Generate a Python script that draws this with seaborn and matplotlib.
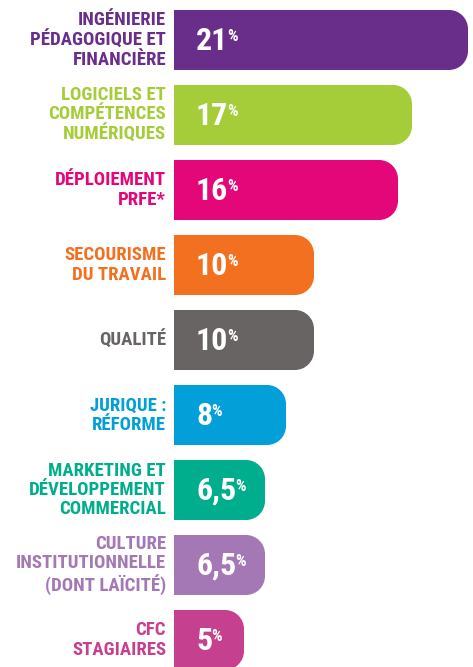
import pandas as pd
import matplotlib.pyplot as plt
import seaborn as sns
from matplotlib.path import Path
from matplotlib.patches import PathPatch


# Données
themes = [
    "INGÉNIERIE\nPÉDAGOGIQUE ET\nFINANCIÈRE",
    "LOGICIELS ET\nCOMPÉTENCES\nNUMÉRIQUES",
    "DÉPLOIEMENT\nPRFE*",
    "SECOURISME\nDU TRAVAIL",
    "QUALITÉ",
    "JURIQUE :\nRÉFORME",
    "MARKETING ET\nDÉVELOPPEMENT\nCOMMERCIAL",
    "CULTURE\nINSTITUTIONNELLE\n(DONT LAÏCITÉ)",
    "CFC\nSTAGIAIRES",
]
pourcentages = [21, 17, 16, 10, 10, 8, 6.5, 6.5, 5]
etiquettes = ["21", "17", "16", "10", "10", "8", "6,5", "6,5", "5"]
couleurs = ["#692D8A", "#A5CD39", "#E3077A", "#F37021", "#686463",
            "#029FD8", "#00AE8D", "#A478B4", "#C5418F"]

sns.set_style("white")
# police étroite et grasse, proche de l'original
plt.rcParams["font.family"] = ["Roboto Condensed", "DejaVu Sans"]

df = pd.DataFrame({"Thème": themes, "Pourcentage": pourcentages})

fig = plt.figure(figsize=(4.73, 6.67), dpi=100)
ax = fig.add_axes([174 / 473, 0, 1 - 174 / 473, 1])

sns.barplot(data=df, y="Thème", x="Pourcentage", hue="Thème",
            palette=couleurs, orient="h", width=0.8, legend=False,
            saturation=1, ax=ax)

ax.set_xlim(0, 299 / 14.0)
ax.set_ylim(8.36, -0.533)
ax.axis("off")

# Remplacer les barres par des barres aux coins droits arrondis
px_x = ax.transData.transform((1, 0))[0] - ax.transData.transform((0, 0))[0]
px_y = abs(ax.transData.transform((0, 1))[1] - ax.transData.transform((0, 0))[1])
rayon = 19
rx, ry = rayon / px_x, rayon / px_y
k = 0.5523

for patch in list(ax.patches):
    x0, y0 = patch.get_x(), patch.get_y()
    x1, y1 = x0 + patch.get_width(), y0 + patch.get_height()
    coul = patch.get_facecolor()
    patch.remove()
    verts = [
        (x0, y0), (x1 - rx, y0),
        (x1 - rx + k * rx, y0), (x1, y0 + ry - k * ry), (x1, y0 + ry),
        (x1, y1 - ry),
        (x1, y1 - ry + k * ry), (x1 - rx + k * rx, y1), (x1 - rx, y1),
        (x0, y1), (x0, y0),
    ]
    codes = [Path.MOVETO, Path.LINETO,
             Path.CURVE4, Path.CURVE4, Path.CURVE4,
             Path.LINETO,
             Path.CURVE4, Path.CURVE4, Path.CURVE4,
             Path.LINETO, Path.CLOSEPOLY]
    ax.add_patch(PathPatch(Path(verts, codes), facecolor=coul,
                           edgecolor="none", lw=0))

# Libellés à gauche et valeurs dans les barres
for i, (theme, etiq, coul) in enumerate(zip(themes, etiquettes, couleurs)):
    ax.annotate(theme, xy=(0, i), xytext=(-8, 0), textcoords="offset pixels",
                ha="right", va="center", ma="right", color=coul,
                fontsize=13.5, fontweight="bold", linespacing=1.1,
                annotation_clip=False)
    nombre = ax.annotate(etiq, xy=(0, i), xytext=(22, -1),
                         textcoords="offset pixels", ha="left", va="center",
                         color="white", fontsize=23, fontweight="bold")
    ax.annotate("%", xy=(1, 1), xycoords=nombre, xytext=(-1, -3),
                textcoords="offset pixels", ha="left", va="top",
                color="white", fontsize=12, fontweight="bold")

plt.savefig("out.png", dpi=100)
